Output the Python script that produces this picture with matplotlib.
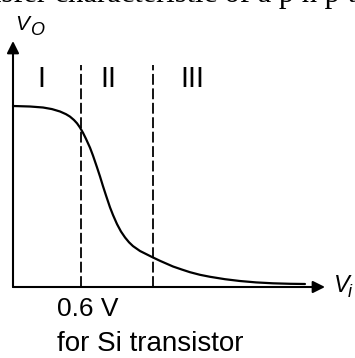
import matplotlib.pyplot as plt

# --- Data (Vi in volts, Vo normalised to the saturated level) ---
vi = [0.0, 0.150, 0.265, 0.344, 0.415, 0.468, 0.503, 0.538, 0.565, 0.591,
      0.618, 0.644, 0.680, 0.706, 0.741, 0.768, 0.794, 0.821, 0.856, 0.883,
      0.918, 0.953, 0.989, 1.024, 1.059, 1.121, 1.174, 1.227, 1.297, 1.412,
      1.492, 1.562, 1.650, 1.739, 1.871, 2.003, 2.145, 2.295, 2.445, 2.577]
vo = [1.0, 0.9972, 0.9917, 0.9829, 0.9696, 0.9547, 0.9414, 0.9227, 0.9044, 0.8812,
      0.8519, 0.8188, 0.7691, 0.7260, 0.6619, 0.6105, 0.5575, 0.5055, 0.4403, 0.3972,
      0.3475, 0.3066, 0.2735, 0.2470, 0.2260, 0.1989, 0.1823, 0.1657, 0.1448, 0.1133,
      0.0961, 0.0818, 0.0674, 0.0564, 0.0431, 0.0331, 0.0254, 0.0204, 0.0177, 0.0166]
region_edges = [0.6, 1.235]
region_labels = ["I", "II", "III"]
region_label_x = [0.247, 0.843, 1.584]

PX = 113.3   # pixels per volt
PY = 181.0   # pixels per unit of Vo

fig = plt.figure(figsize=(3.55, 3.58), dpi=100)
ax = fig.add_axes([0, 0, 1, 1])
ax.set_xlim(-13 / PX, 342 / PX)
ax.set_ylim(-71 / PY, 287 / PY)
ax.axis("off")

sans = "Liberation Sans"

# --- clipped caption line from the page above ---
ax.text(-59 / PX, 285 / PY, "transfer characteristic of a p n p transistor",
        family="Liberation Serif", fontsize=22, va="baseline", ha="left")

# --- axes with arrows ---
arrow = dict(arrowstyle="-|>", color="black", lw=1.5, mutation_scale=18,
             shrinkA=0, shrinkB=0)
ax.annotate("", xy=(0, 246 / PY), xytext=(0, 0), arrowprops=arrow)
ax.annotate("", xy=(312 / PX, 0), xytext=(0, 0), arrowprops=arrow)

ax.text(2 / PX, 257 / PY, "V", family=sans, style="italic", fontsize=15,
        ha="left", va="baseline")
ax.text(17 / PX, 252 / PY, "O", family=sans, style="italic", fontsize=13,
        ha="left", va="baseline")
ax.text(321 / PX, -5 / PY, "V", family=sans, style="italic", fontsize=17,
        ha="left", va="baseline")
ax.text(335 / PX, -10 / PY, "i", family=sans, style="italic", fontsize=13,
        ha="left", va="baseline")

# --- region boundaries ---
for xe in region_edges:
    ax.plot([xe, xe], [0, 222 / PY], color="black", lw=1.3,
            linestyle=(0, (6, 2)))
for lab, xl in zip(region_labels, region_label_x):
    ax.text(xl, 208 / PY, lab, family=sans, fontsize=21,
            ha="center", va="center")

# --- transfer curve ---
ax.plot(vi, vo, color="black", lw=1.6, solid_capstyle="round",
        solid_joinstyle="round")

# --- labels below the axis ---
ax.text(44 / PX, -29 / PY, "0.6 V", family=sans, fontsize=19,
        ha="left", va="baseline")
ax.text(44 / PX, -64 / PY, "for Si transistor", family=sans, fontsize=20,
        ha="left", va="baseline")

fig.savefig("out.png", dpi=100)
